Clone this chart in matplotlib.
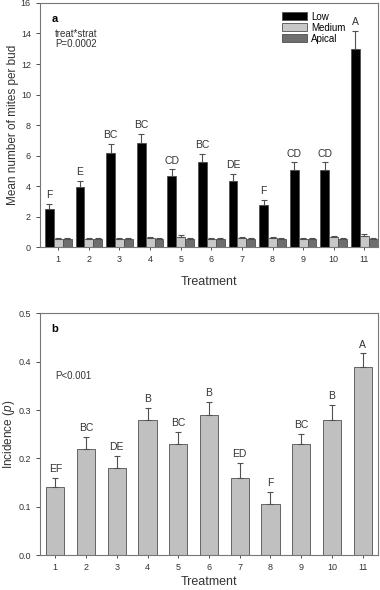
import numpy as np
import matplotlib
matplotlib.use('Agg')
import matplotlib.pyplot as plt

# data
treat = np.arange(1, 12)
low = [2.5, 3.95, 6.2, 6.8, 4.65, 5.6, 4.35, 2.75, 5.05, 5.05, 13.0]
low_err = [0.35, 0.4, 0.55, 0.6, 0.45, 0.5, 0.45, 0.35, 0.5, 0.5, 1.15]
medium = [0.55, 0.55, 0.55, 0.6, 0.65, 0.55, 0.6, 0.6, 0.55, 0.65, 0.75]
medium_err = [0.08, 0.08, 0.08, 0.1, 0.12, 0.08, 0.08, 0.08, 0.08, 0.1, 0.12]
apical = [0.55, 0.55, 0.55, 0.55, 0.55, 0.55, 0.55, 0.55, 0.55, 0.55, 0.55]
apical_err = [0.06] * 11
low_letters = ['F', 'E', 'BC', 'BC', 'CD', 'BC', 'DE', 'F', 'CD', 'CD', 'A']

incid = [0.14, 0.22, 0.18, 0.28, 0.23, 0.29, 0.16, 0.105, 0.23, 0.28, 0.39]
incid_err = [0.02, 0.025, 0.025, 0.025, 0.025, 0.027, 0.03, 0.025, 0.02, 0.03, 0.027]
incid_letters = ['EF', 'BC', 'DE', 'B', 'BC', 'B', 'ED', 'F', 'BC', 'B', 'A']

plt.rcParams['font.family'] = 'Liberation Sans'
plt.rcParams['mathtext.fontset'] = 'custom'
plt.rcParams['mathtext.it'] = 'Liberation Sans:italic'
edge = '#505050'
txt = '#333333'
fig = plt.figure(figsize=(3.8, 5.9), dpi=100)

#panel a
ax1 = fig.add_axes([0.105, 0.581, 0.89, 0.414])
w = 0.29
series = [(low, low_err, 'black', 'Low', -w),
          (medium, medium_err, '#c8c8c8', 'Medium', 0),
          (apical, apical_err, '#6e6e6e', 'Apical', w)]
for vals, err, col, lab, off in series:
    ax1.bar(treat + off, vals, w, color=col, edgecolor=edge, linewidth=0.6, label=lab)
    ax1.errorbar(treat + off, vals, yerr=[np.zeros(11), err], fmt='none',
                 ecolor=edge, elinewidth=0.8, capsize=2.5, capthick=0.8)
for i in range(11):
    ax1.text(treat[i] - w, low[i] + low_err[i] + 0.25, low_letters[i],
             ha='center', va='bottom', fontsize=7.5, color=txt)
ax1.set_xlim(0.4, 11.45)
ax1.set_ylim(0, 16)
ax1.set_yticks(range(0, 17, 2))
ax1.set_xticks(treat)
ax1.set_xlabel('Treatment', fontsize=9, labelpad=9, color=txt)
ax1.set_ylabel('Mean number of mites per bud', fontsize=8.5, labelpad=1, color=txt)
ax1.text(0.035, 0.955, 'a', transform=ax1.transAxes, fontsize=8, fontweight='bold', va='top')
ax1.text(0.045, 0.895, 'treat*strat\nP=0.0002', transform=ax1.transAxes, fontsize=7,
         va='top', linespacing=1.05, color=txt)
ax1.legend(loc='upper right', bbox_to_anchor=(0.93, 1.0), frameon=False, fontsize=7,
           handlelength=2.6, handleheight=0.9, labelspacing=0.1, handletextpad=0.4)

#panel b
ax2 = fig.add_axes([0.105, 0.059, 0.89, 0.41])
ax2.bar(treat, incid, 0.6, color='#c0c0c0', edgecolor=edge, linewidth=0.6)
ax2.errorbar(treat, incid, yerr=[np.zeros(11), incid_err], fmt='none',
             ecolor=edge, elinewidth=0.8, capsize=2.5, capthick=0.8)
for i in range(11):
    ax2.text(treat[i], incid[i] + incid_err[i] + 0.008, incid_letters[i],
             ha='center', va='bottom', fontsize=7.5, color=txt)
ax2.set_xlim(0.5, 11.5)
ax2.set_ylim(0, 0.5)
ax2.set_yticks(np.arange(0, 0.51, 0.1))
ax2.set_yticklabels(['0.0', '0.1', '0.2', '0.3', '0.4', '0.5'])
ax2.set_xticks(treat)
ax2.set_xlabel('Treatment', fontsize=9, labelpad=3, color=txt)
ax2.set_ylabel('Incidence ($p$)', fontsize=8.5, labelpad=1, color=txt)
ax2.text(0.035, 0.955, 'b', transform=ax2.transAxes, fontsize=8, fontweight='bold', va='top')
ax2.text(0.045, 0.73, 'P<0.001', transform=ax2.transAxes, fontsize=7, color=txt)

for ax in (ax1, ax2):
    for s in ax.spines.values():
        s.set_color('#777777')
        s.set_linewidth(0.8)
    ax.tick_params(labelsize=6.5, colors=txt, length=3, width=0.6)
    ax.tick_params(axis='x', length=2)

fig.savefig('out.png', dpi=100)
